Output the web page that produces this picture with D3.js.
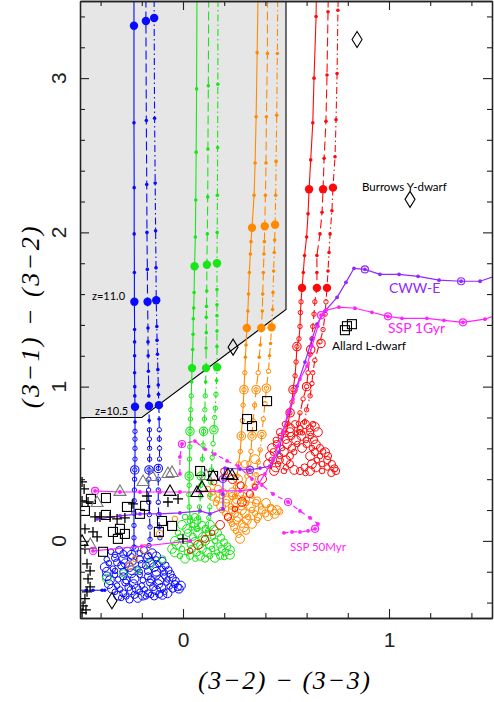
<!DOCTYPE html>
<html>
<head>
<meta charset="utf-8">
<script src="https://cdn.jsdelivr.net/npm/d3@7"></script>
<style>body{margin:0;background:#fff}</style>
</head>
<body>
<div id="chart"></div>
<script>
// axis ticks
const xMajor = [0, 1];
const xMinor = [-0.4, -0.2, 0.2, 0.4, 0.6, 0.8, 1.2, 1.4];
const yMajor = [0, 1, 2, 3];
const yMinor = [-0.4, -0.2, 0.2, 0.4, 0.6, 0.8, 1.2, 1.4, 1.6, 1.8, 2.2, 2.4, 2.6, 2.8, 3.2, 3.4];

// selection box
const selectBox = [[-0.5, 3.6], [-0.5, 0.8], [-0.2, 0.8], [0.5, 1.5], [0.5, 3.6]];

// blue tracks
const blueSolid = [[-0.238,3.6],[-0.238,3.34],[-0.238,2.71],[-0.237,2.29],[-0.237,1.99],[-0.236,1.74],[-0.236,1.55],[-0.235,1.37],[-0.235,1.29],[-0.235,1.2],[-0.235,1.09],[-0.234,1.0],[-0.234,0.94],[-0.233,0.87],[-0.233,0.77],[-0.233,0.71],[-0.233,0.66],[-0.233,0.6],[-0.233,0.53],[-0.234,0.46],[-0.235,0.4],[-0.236,0.33],[-0.237,0.26],[-0.238,0.18],[-0.238,0.1],[-0.238,0.02],[-0.238,-0.04]];
const blueDash = [[-0.18,3.6],[-0.18,3.37],[-0.178,2.725],[-0.176,2.31],[-0.175,2.0],[-0.173,1.76],[-0.172,1.55],[-0.17,1.38],[-0.17,1.29],[-0.169,1.2],[-0.168,1.1],[-0.167,1.0],[-0.166,0.94],[-0.165,0.875],[-0.164,0.78],[-0.163,0.72],[-0.163,0.66],[-0.162,0.6],[-0.162,0.53],[-0.165,0.46],[-0.166,0.4],[-0.167,0.33],[-0.166,0.25],[-0.163,0.17],[-0.16,0.09],[-0.16,0.01],[-0.165,-0.03]];
const blueDot = [[-0.14,3.6],[-0.14,3.39],[-0.138,2.74],[-0.135,2.32],[-0.133,2.01],[-0.131,1.77],[-0.13,1.56],[-0.127,1.39],[-0.126,1.3],[-0.124,1.21],[-0.122,1.11],[-0.12,1.01],[-0.119,0.95],[-0.117,0.88],[-0.116,0.79],[-0.115,0.72],[-0.115,0.66],[-0.114,0.6],[-0.114,0.53],[-0.12,0.47],[-0.12,0.4],[-0.12,0.33],[-0.12,0.25],[-0.118,0.17],[-0.115,0.09],[-0.112,0.02]];
const blueBig = [[-0.238,3.34],[-0.18,3.37],[-0.14,3.39],[-0.236,1.55],[-0.172,1.55],[-0.13,1.56],[-0.233,0.87],[-0.165,0.875],[-0.117,0.88]];
const blueRings = [[-0.234,0.46],[-0.165,0.46],[-0.12,0.47]];
const blueCloud = [[-0.35,-0.07],[-0.31,-0.06],[-0.27,-0.07],[-0.23,-0.05],[-0.19,-0.06],[-0.15,-0.08],
  [-0.37,-0.12],[-0.33,-0.11],[-0.29,-0.12],[-0.25,-0.10],[-0.21,-0.12],[-0.17,-0.11],[-0.13,-0.12],[-0.10,-0.13],
  [-0.38,-0.17],[-0.34,-0.18],[-0.30,-0.16],[-0.26,-0.17],[-0.22,-0.18],[-0.18,-0.16],[-0.14,-0.17],[-0.10,-0.18],[-0.07,-0.19],
  [-0.37,-0.23],[-0.33,-0.22],[-0.29,-0.23],[-0.25,-0.21],[-0.21,-0.22],[-0.17,-0.23],[-0.13,-0.22],[-0.09,-0.23],[-0.05,-0.24],
  [-0.36,-0.28],[-0.32,-0.29],[-0.28,-0.27],[-0.24,-0.28],[-0.20,-0.29],[-0.16,-0.27],[-0.12,-0.28],[-0.08,-0.27],[-0.04,-0.28],[-0.01,-0.29],
  [-0.33,-0.33],[-0.29,-0.34],[-0.25,-0.32],[-0.21,-0.33],[-0.17,-0.34],[-0.13,-0.32],[-0.09,-0.33],[-0.05,-0.31],[-0.02,-0.31],
  [-0.30,-0.37],[-0.26,-0.38],[-0.22,-0.37],[-0.18,-0.36],[-0.14,-0.36],[-0.10,-0.35],
  [-0.33,-0.09],[-0.29,-0.085],[-0.25,-0.09],[-0.21,-0.08],[-0.17,-0.095],[-0.13,-0.10],
  [-0.36,-0.145],[-0.32,-0.14],[-0.28,-0.145],[-0.24,-0.135],[-0.20,-0.15],[-0.16,-0.14],[-0.12,-0.15],[-0.085,-0.16],
  [-0.37,-0.20],[-0.33,-0.195],[-0.29,-0.20],[-0.25,-0.19],[-0.21,-0.20],[-0.17,-0.195],[-0.13,-0.20],[-0.09,-0.205],[-0.06,-0.215],
  [-0.355,-0.255],[-0.315,-0.25],[-0.275,-0.255],[-0.235,-0.245],[-0.195,-0.255],[-0.155,-0.25],[-0.115,-0.255],[-0.075,-0.25],[-0.035,-0.26],
  [-0.345,-0.31],[-0.305,-0.315],[-0.265,-0.30],[-0.225,-0.31],[-0.185,-0.315],[-0.145,-0.30],[-0.105,-0.305],[-0.065,-0.295],[-0.025,-0.30],
  [-0.315,-0.355],[-0.275,-0.36],[-0.235,-0.35],[-0.195,-0.355],[-0.155,-0.35],[-0.115,-0.345],[-0.075,-0.34]];
const blueTail = [[-0.38,-0.32],[-0.393,-0.32],[-0.437,-0.32],[-0.47,-0.32],[-0.52,-0.32]];

// green tracks
const greenSolid = [[0.068,3.6],[0.066,2.93],[0.064,2.52],[0.062,2.21],[0.06,1.97],[0.056,1.78],[0.054,1.61],[0.052,1.51],[0.05,1.44],[0.049,1.34],[0.047,1.24],[0.044,1.12],[0.042,1.03],[0.04,0.94],[0.038,0.85],[0.036,0.79],[0.034,0.71],[0.033,0.61],[0.032,0.53],[0.03,0.42],[0.03,0.36],[0.028,0.3],[0.03,0.22],[0.035,0.15],[0.04,0.08]];
const greenDash = [[0.125,3.6],[0.123,2.95],[0.121,2.54],[0.12,2.23],[0.118,1.99],[0.116,1.79],[0.115,1.62],[0.114,1.52],[0.113,1.45],[0.113,1.35],[0.112,1.25],[0.112,1.12],[0.11,1.03],[0.108,0.94],[0.106,0.85],[0.104,0.79],[0.1,0.71],[0.097,0.62],[0.094,0.53],[0.088,0.42],[0.086,0.36],[0.085,0.29],[0.08,0.22],[0.075,0.15],[0.07,0.08]];
const greenDot = [[0.17,3.6],[0.169,2.96],[0.168,2.55],[0.167,2.24],[0.166,2.0],[0.165,1.8],[0.165,1.63],[0.165,1.53],[0.165,1.46],[0.165,1.36],[0.165,1.26],[0.165,1.126],[0.163,1.04],[0.16,0.95],[0.157,0.86],[0.154,0.8],[0.15,0.72],[0.146,0.63],[0.142,0.54],[0.138,0.46],[0.135,0.38],[0.132,0.3],[0.13,0.22],[0.125,0.15],[0.12,0.07]];
const greenBig = [[0.056,1.78],[0.116,1.79],[0.165,1.8],[0.044,1.12],[0.112,1.12],[0.165,1.126]];
const greenRings = [[0.034,0.71],[0.1,0.71],[0.15,0.72],[0.03,0.42],[0.088,0.42]];
const greenCloud = [[0.01,0.155],[0.058,0.155],
  [-0.005,0.104],[0.044,0.104],[0.092,0.104],[0.131,0.104],
  [-0.024,0.052],[0.024,0.052],[0.073,0.052],[0.121,0.052],[0.17,0.052],
  [-0.039,0.0],[0.01,0.0],[0.058,0.0],[0.107,0.0],[0.155,0.0],[0.199,-0.01],
  [-0.053,-0.052],[-0.005,-0.052],[0.044,-0.052],[0.092,-0.052],[0.141,-0.052],[0.189,-0.052],[0.228,-0.06],
  [-0.015,-0.097],[0.034,-0.097],[0.083,-0.097],[0.131,-0.097],[0.18,-0.097],[0.228,-0.09],
  [0.034,0.13],[0.07,0.13],
  [0.02,0.078],[0.068,0.078],[0.11,0.078],[0.15,0.07],
  [-0.015,0.026],[0.048,0.026],[0.097,0.026],[0.145,0.026],[0.185,0.02],
  [-0.03,-0.026],[0.034,-0.026],[0.083,-0.026],[0.131,-0.026],[0.177,-0.03],[0.215,-0.035],
  [-0.04,-0.075],[0.02,-0.075],[0.068,-0.075],[0.117,-0.075],[0.165,-0.075],[0.205,-0.075],
  [0.01,-0.115],[0.06,-0.115],[0.107,-0.115],[0.155,-0.11],[0.2,-0.105],
  [-0.1,-0.12],[-0.16,-0.15],[-0.22,-0.19],[-0.29,-0.21],[-0.37,-0.245]];

// orange tracks
const orangeSolid = [[0.365,3.6],[0.36,3.165],[0.355,2.75],[0.35,2.45],[0.345,2.24],[0.335,2.03],[0.33,1.94],[0.327,1.86],[0.322,1.74],[0.318,1.6],[0.315,1.49],[0.31,1.38],[0.306,1.27],[0.303,1.19],[0.3,1.09],[0.296,0.98],[0.292,0.88],[0.288,0.78],[0.283,0.68],[0.278,0.58],[0.27,0.5],[0.262,0.42],[0.255,0.35],[0.25,0.29]];
const orangeDash = [[0.41,3.6],[0.41,3.16],[0.405,2.75],[0.403,2.45],[0.4,2.24],[0.397,2.04],[0.395,1.94],[0.393,1.86],[0.39,1.74],[0.387,1.6],[0.385,1.49],[0.38,1.38],[0.375,1.27],[0.37,1.19],[0.365,1.09],[0.355,0.98],[0.348,0.88],[0.34,0.78],[0.335,0.68],[0.33,0.58],[0.32,0.5],[0.31,0.42],[0.3,0.35],[0.29,0.28]];
const orangeDot = [[0.46,3.6],[0.458,3.16],[0.455,2.76],[0.452,2.46],[0.45,2.24],[0.447,2.05],[0.445,1.95],[0.443,1.87],[0.44,1.75],[0.437,1.61],[0.435,1.5],[0.43,1.385],[0.425,1.28],[0.42,1.2],[0.415,1.1],[0.405,0.99],[0.398,0.89],[0.39,0.79],[0.383,0.69],[0.375,0.59],[0.365,0.51],[0.355,0.43],[0.345,0.36],[0.335,0.29]];
const orangeBig = [[0.335,2.03],[0.397,2.04],[0.447,2.05],[0.31,1.38],[0.38,1.38],[0.43,1.385]];
const orangeRings = [[0.296,0.98],[0.355,0.98],[0.405,0.99],[0.283,0.68],[0.335,0.68],[0.383,0.69]];
const orangeCloud = [[0.121,0.337],[0.17,0.337],
  [0.141,0.291],[0.189,0.291],[0.238,0.291],[0.286,0.291],
  [0.16,0.246],[0.209,0.246],[0.257,0.246],[0.306,0.246],[0.354,0.246],[0.403,0.246],
  [0.189,0.2],[0.238,0.2],[0.286,0.2],[0.335,0.2],[0.383,0.2],[0.432,0.2],[0.471,0.19],
  [0.218,0.155],[0.267,0.155],[0.316,0.155],[0.364,0.155],[0.413,0.16],
  [0.238,0.11],[0.286,0.11],[0.335,0.11],
  [0.257,0.065],[0.306,0.065],[0.277,0.013],
  [0.145,0.315],[0.195,0.315],[0.24,0.315],
  [0.165,0.268],[0.213,0.268],[0.262,0.268],[0.31,0.268],[0.36,0.262],
  [0.185,0.223],[0.233,0.223],[0.282,0.223],[0.33,0.223],[0.378,0.223],[0.425,0.215],[0.455,0.2],
  [0.205,0.178],[0.253,0.178],[0.3,0.178],[0.35,0.178],[0.4,0.178],[0.445,0.175],
  [0.228,0.133],[0.262,0.133],[0.31,0.133],[0.36,0.135],
  [0.248,0.088],[0.296,0.088],[0.27,0.04],
  [0.204,0.414],[0.267,0.4],[0.325,0.434],[0.3,0.498],[0.35,0.53],
  [-0.039,0.142],[-0.112,0.045],[-0.184,-0.052],[-0.233,-0.117],[-0.257,-0.162]];

// red tracks
const redSolid = [[0.648,3.6],[0.646,3.4],[0.636,3.0],[0.63,2.71],[0.62,2.47],[0.612,2.28],[0.607,2.12],[0.6,1.97],[0.59,1.85],[0.584,1.74],[0.578,1.64],[0.573,1.55],[0.57,1.48],[0.568,1.39],[0.563,1.31],[0.553,1.26],[0.549,1.16],[0.544,1.07],[0.534,0.98],[0.529,0.9],[0.519,0.83],[0.51,0.76],[0.5,0.7]];
const redDash = [[0.706,3.6],[0.704,3.43],[0.699,3.02],[0.694,2.72],[0.685,2.48],[0.68,2.28],[0.675,2.13],[0.665,1.99],[0.65,1.85],[0.65,1.74],[0.65,1.64],[0.64,1.55],[0.636,1.47],[0.63,1.39],[0.626,1.31],[0.617,1.21],[0.607,1.09],[0.6,1.0],[0.583,0.92],[0.568,0.83],[0.56,0.76],[0.55,0.7]];
const redDot = [[0.755,3.6],[0.752,3.44],[0.748,3.03],[0.743,2.73],[0.738,2.49],[0.728,2.29],[0.723,2.14],[0.714,1.99],[0.709,1.87],[0.704,1.75],[0.699,1.64],[0.694,1.55],[0.69,1.47],[0.68,1.37],[0.665,1.29],[0.64,1.17],[0.63,1.09],[0.626,1.02],[0.617,0.94],[0.6,0.85],[0.59,0.77],[0.58,0.7]];
const redBig = [[0.612,2.28],[0.68,2.28],[0.728,2.29],[0.578,1.64],[0.65,1.64],[0.699,1.64]];
const redRings = [[0.553,1.26],[0.62,1.24],[0.67,1.28],[0.534,0.98],[0.6,1.0],[0.52,0.83]];
const redCloud = [[0.495,0.757],[0.544,0.757],[0.592,0.757],[0.631,0.757],
  [0.471,0.705],[0.519,0.705],[0.568,0.705],[0.617,0.705],[0.655,0.705],
  [0.451,0.654],[0.5,0.654],[0.549,0.654],[0.597,0.654],[0.636,0.654],
  [0.432,0.602],[0.481,0.602],[0.529,0.602],[0.578,0.602],[0.626,0.602],[0.665,0.602],
  [0.422,0.55],[0.471,0.55],[0.519,0.55],[0.617,0.55],[0.665,0.55],[0.704,0.55],
  [0.413,0.498],[0.461,0.498],[0.519,0.498],[0.626,0.498],[0.675,0.498],[0.723,0.498],
  [0.442,0.453],[0.49,0.453],[0.568,0.453],[0.617,0.453],[0.675,0.453],[0.743,0.453],
  [0.52,0.73],[0.57,0.73],[0.615,0.73],[0.64,0.74],
  [0.475,0.68],[0.525,0.68],[0.575,0.68],[0.62,0.68],
  [0.455,0.628],[0.505,0.628],[0.555,0.628],[0.6,0.628],[0.645,0.625],[0.68,0.58],
  [0.44,0.576],[0.49,0.576],[0.54,0.576],[0.64,0.576],[0.69,0.575],
  [0.43,0.524],[0.47,0.524],[0.5,0.524],[0.65,0.524],[0.7,0.524],
  [0.45,0.476],[0.5,0.476],[0.59,0.476],[0.645,0.476],[0.7,0.476],[0.735,0.47],
  [0.54,0.46],[0.595,0.44],[0.72,0.44],
  [0.384,0.401],[0.35,0.35],[0.325,0.304],[0.286,0.252],[0.252,0.207],[0.218,0.155],[0.18,0.104],
  [0.141,0.052],[0.107,0.013],[0.073,-0.026],[0.034,-0.065],[0.2,0.45],[0.24,0.4],[0.15,0.38],[0.28,0.36]];

// model tracks
const cwwe = [[1.52,1.72],[1.442,1.683],[1.35,1.683],[1.243,1.69],[1.141,1.715],[1.049,1.728],[0.956,1.728],[0.883,1.76],[0.83,1.767],[0.791,1.676],[0.748,1.579],[0.689,1.489],[0.65,1.405],[0.626,1.307],[0.592,1.159],[0.553,1.003],[0.515,0.835],[0.485,0.706],[0.466,0.576],[0.422,0.485],[0.374,0.472],[0.325,0.46],[0.277,0.466],[0.204,0.472],[0.194,0.401],[0.194,0.304],[0.194,0.207],[0.131,0.175],[0.083,0.194],[-0.015,0.181],[-0.112,0.175],[-0.209,0.175],[-0.306,0.162],[-0.417,0.142]];
const cwweRings = [[0.883,1.76],[1.35,1.683],[0.325,0.46],[0.194,0.401]];
const ssp1 = [[1.52,1.463],[1.466,1.437],[1.359,1.417],[1.267,1.43],[1.184,1.443],[1.063,1.443],[0.995,1.456],[0.917,1.482],[0.835,1.508],[0.757,1.515],[0.694,1.495],[0.67,1.463],[0.655,1.392],[0.626,1.262],[0.602,1.133],[0.568,1.049],[0.534,0.919],[0.51,0.835],[0.485,0.706],[0.461,0.615],[0.437,0.531],[0.398,0.434],[0.35,0.337],[0.277,0.324],[0.18,0.324],[0.083,0.317],[-0.015,0.317],[-0.112,0.317],[-0.209,0.317],[-0.306,0.317],[-0.427,0.324]];
const ssp1Rings = [[0.995,1.456],[1.359,1.417],[0.67,1.463],[-0.427,0.324]];
const ssp50 = [[-0.015,0.434],[-0.015,0.544],[-0.005,0.628],[0.058,0.647],[0.107,0.595],[0.155,0.563],[0.214,0.518],[0.267,0.485],[0.335,0.401],[0.383,0.362],[0.437,0.304],[0.51,0.252],[0.568,0.194],[0.617,0.149],[0.655,0.11],[0.641,0.078],[0.607,0.065],[0.568,0.058],[0.529,0.058],[0.49,0.052]];
const ssp50Rings = [[-0.005,0.628],[0.51,0.252],[0.641,0.078]];
const sspLow = [[-0.437,-0.065],[-0.2,-0.035],[0.035,0.0]];

// observed objects
const crosses = [[-0.49,0.382],[-0.48,0.337],[-0.49,0.259],[-0.461,0.252],[-0.427,0.155],[-0.403,0.155],[-0.476,0.078],[-0.437,0.058],[-0.417,0.026],[-0.476,-0.052],[-0.466,-0.149],[-0.451,-0.194],[-0.461,-0.246],[-0.451,-0.298],[-0.466,-0.33],[-0.476,-0.375],[-0.485,-0.421],[-0.471,-0.447],[-0.49,-0.466],[-0.354,0.155],[-0.32,0.142],[-0.282,0.149],[-0.243,0.24],[-0.175,0.291],[-0.073,0.252],[-0.024,0.272],[0.0,0.013]];
const squares = [[-0.447,0.272],[-0.374,0.278],[-0.476,0.194],[-0.374,0.168],[-0.272,0.22],[-0.34,0.058],[-0.306,0.078],[-0.282,0.045],[-0.316,0.013],[-0.388,-0.071],[-0.209,0.175],[-0.184,0.227],[-0.102,0.129],[-0.117,0.058],[-0.053,0.097],[0.083,0.453],[0.146,0.421],[0.408,0.906],[0.311,0.79],[0.335,0.744],[0.796,1.392],[0.82,1.405],[0.786,1.366]];
const greyTriangles = [[-0.306,0.324],[-0.417,0.252],[-0.053,0.447],[-0.15,0.421],[-0.194,0.388],[-0.073,0.44],[0.112,0.427],[-0.45,-0.02]];
const blackTriangles = [[-0.063,0.324],[0.068,0.317],[0.092,0.35],[0.218,0.434],[0.238,0.427],[0.146,0.421],[-0.49,0.0]];
const diamonds = [[0.845,3.25],[1.102,2.214],[0.243,1.256],[-0.345,-0.388]];

const margin = {top: 1, right: 2, bottom: 84, left: 80};
const width = 494 - margin.left - margin.right;
const height = 702 - margin.top - margin.bottom;

const svg = d3.select("#chart")
    .append("svg")
    .attr("width", 494)
    .attr("height", 702)
    .append("g")
    .attr("transform", `translate(${margin.left},${margin.top})`);

const x = d3.scaleLinear().domain([-0.5, 1.5]).range([0, width]);
const y = d3.scaleLinear().domain([-0.5, 3.5]).range([height, 0]);
const line = d3.line().x(d => x(d[0])).y(d => y(d[1]));

svg.append("clipPath").attr("id", "clip")
    .append("rect").attr("width", width).attr("height", height);
const plot = svg.append("g").attr("clip-path", "url(#clip)");

plot.append("path")
    .datum(selectBox)
    .attr("fill", "#e6e6e6")
    .attr("d", line);
plot.append("path")
    .datum(selectBox.slice(1))
    .attr("fill", "none")
    .attr("stroke", "black")
    .attr("stroke-width", 1.1)
    .attr("d", line);

function dots(pts, r, color, filled, sw) {
    plot.append("g").selectAll("circle")
        .data(pts)
        .enter()
        .append("circle")
        .attr("cx", d => x(d[0]))
        .attr("cy", d => y(d[1]))
        .attr("r", r)
        .attr("fill", filled ? color : "none")
        .attr("stroke", filled ? "none" : color)
        .attr("stroke-width", sw || 1);
}

const dashes = [null, "9,4", "7,3,1.5,3"];
const colourTracks = [
    {color: "#0a0aff", cut: 0.75, lines: [blueSolid, blueDash, blueDot], big: blueBig, rings: blueRings, cloud: blueCloud},
    {color: "#19e619", cut: 1.0, lines: [greenSolid, greenDash, greenDot], big: greenBig, rings: greenRings, cloud: greenCloud},
    {color: "#ff8a00", cut: 1.15, lines: [orangeSolid, orangeDash, orangeDot], big: orangeBig, rings: orangeRings, cloud: orangeCloud},
    {color: "#ff0a0a", cut: 1.6, lines: [redSolid, redDash, redDot], big: redBig, rings: redRings, cloud: redCloud}
];

colourTracks.forEach(t => {
    plot.append("g").selectAll("circle")
        .data(t.cloud)
        .enter()
        .append("circle")
        .attr("cx", d => x(d[0]))
        .attr("cy", d => y(d[1]))
        .attr("r", (d, i) => 2.8 + (i % 3) * 0.8)
        .attr("fill", "none")
        .attr("stroke", t.color)
        .attr("stroke-width", 1);

    t.lines.forEach((pts, k) => {
        plot.append("path")
            .datum(pts)
            .attr("fill", "none")
            .attr("stroke", t.color)
            .attr("stroke-width", 1.1)
            .attr("stroke-dasharray", dashes[k])
            .attr("d", line);
        dots(pts.filter(d => d[1] >= t.cut), 1.8, t.color, true);
        dots(pts.filter(d => d[1] < t.cut), 2.2, t.color, false, 1);
    });
    dots(t.rings, 4.2, t.color, false, 1.1);
    dots(t.big, 4.2, t.color, true);
});

plot.append("path").datum(blueTail)
    .attr("fill", "none").attr("stroke", "#0a0aff").attr("stroke-width", 1)
    .attr("d", line);
dots(blueTail, 1.8, "#0a0aff", true);

// model SEDs
const purple = "#9128ff", magenta = "#ff22ff";
[[cwwe, purple, null], [ssp1, magenta, null], [ssp50, magenta, "5,4"], [sspLow, magenta, null]].forEach(([pts, c, dash]) => {
    plot.append("path").datum(pts)
        .attr("fill", "none")
        .attr("stroke", c)
        .attr("stroke-width", 1.2)
        .attr("stroke-dasharray", dash)
        .attr("d", line);
    dots(pts, 1.9, c, true);
});
dots(cwweRings, 3.5, purple, false, 1.2);
dots(ssp1Rings, 3.5, magenta, false, 1.2);
dots(ssp50Rings, 3.5, magenta, false, 1.2);
dots([sspLow[0]], 3.5, magenta, false, 1.2);

// observed markers
plot.append("g").selectAll("path")
    .data(crosses).enter().append("path")
    .attr("transform", d => `translate(${x(d[0])},${y(d[1])})`)
    .attr("d", "M-5,0H5M0,-5V5")
    .attr("stroke", "black")
    .attr("stroke-width", 1.3);

plot.append("g").selectAll("rect")
    .data(squares).enter().append("rect")
    .attr("x", d => x(d[0]) - 4.5)
    .attr("y", d => y(d[1]) - 4.5)
    .attr("width", 9)
    .attr("height", 9)
    .attr("fill", "none")
    .attr("stroke", "black")
    .attr("stroke-width", 1.1);

[[greyTriangles, "#777"], [blackTriangles, "black"]].forEach(([pts, c]) => {
    plot.append("g").selectAll("path")
        .data(pts).enter().append("path")
        .attr("transform", d => `translate(${x(d[0])},${y(d[1])})`)
        .attr("d", "M0,-6L6,4.5H-6Z")
        .attr("fill", "none")
        .attr("stroke", c)
        .attr("stroke-width", 1.1);
});

plot.append("g").selectAll("path")
    .data(diamonds).enter().append("path")
    .attr("transform", d => `translate(${x(d[0])},${y(d[1])})`)
    .attr("d", "M0,-8L5,0L0,8L-5,0Z")
    .attr("fill", "none")
    .attr("stroke", "black")
    .attr("stroke-width", 1.1);

// annotations
const notes = [
    {text: "Burrows Y-dwarf", x: 0.869, y: 2.265, size: 11.5, color: "black"},
    {text: "CWW-E", x: 1.0, y: 1.605, size: 14, color: purple},
    {text: "SSP 1Gyr", x: 0.995, y: 1.346, size: 14, color: magenta},
    {text: "Allard L-dwarf", x: 0.723, y: 1.236, size: 12, color: "black"},
    {text: "SSP 50Myr", x: 0.519, y: -0.065, size: 11.5, color: magenta},
    {text: "z=11.0", x: -0.442, y: 1.56, size: 11, color: "black"},
    {text: "z=10.5", x: -0.427, y: 0.816, size: 11, color: "black"}
];
svg.append("g").selectAll("text")
    .data(notes).enter().append("text")
    .attr("x", d => x(d.x))
    .attr("y", d => y(d.y))
    .attr("font-family", "Lato, 'Open Sans', sans-serif")
    .attr("font-size", d => d.size)
    .attr("fill", d => d.color)
    .text(d => d.text);

// axes with inward ticks on all sides
function frame(g) {
    g.select(".domain").attr("stroke", "#222").attr("stroke-width", 1.3);
    g.selectAll(".tick line").attr("stroke", "#222").attr("stroke-width", 1.1);
}
svg.append("g").attr("transform", `translate(0,${height})`)
    .call(d3.axisBottom(x).tickValues(xMinor).tickSize(-5).tickSizeOuter(0).tickFormat(""))
    .call(frame);
svg.append("g").attr("transform", `translate(0,${height})`)
    .call(d3.axisBottom(x).tickValues(xMajor).tickSize(-9).tickSizeOuter(0).tickPadding(14).tickFormat(d3.format("d")))
    .call(frame)
    .call(g => g.selectAll("text").attr("font-size", 21).attr("font-family", "Liberation Sans").attr("fill", "#222"));
svg.append("g")
    .call(d3.axisTop(x).tickValues(xMinor).tickSize(-5).tickSizeOuter(0).tickFormat(""))
    .call(frame);
svg.append("g")
    .call(d3.axisTop(x).tickValues(xMajor).tickSize(-9).tickSizeOuter(0).tickFormat(""))
    .call(frame);
svg.append("g")
    .call(d3.axisLeft(y).tickValues(yMinor).tickSize(-5).tickSizeOuter(0).tickFormat(""))
    .call(frame);
svg.append("g")
    .call(d3.axisLeft(y).tickValues(yMajor).tickSize(-9).tickSizeOuter(0).tickFormat(""))
    .call(frame);
svg.append("g").attr("transform", `translate(${width},0)`)
    .call(d3.axisRight(y).tickValues(yMinor).tickSize(-5).tickSizeOuter(0).tickFormat(""))
    .call(frame);
svg.append("g").attr("transform", `translate(${width},0)`)
    .call(d3.axisRight(y).tickValues(yMajor).tickSize(-9).tickSizeOuter(0).tickFormat(""))
    .call(frame);

svg.append("g").selectAll("text")
    .data(yMajor).enter().append("text")
    .attr("transform", d => `translate(-22,${y(d)}) rotate(-90)`)
    .attr("dy", "0.36em")
    .attr("text-anchor", "middle")
    .attr("font-size", 21)
    .attr("font-family", "Liberation Sans")
    .attr("fill", "#222")
    .text(d => d);

svg.append("text")
    .attr("x", width / 2 - 2)
    .attr("y", height + 71)
    .attr("text-anchor", "middle")
    .attr("font-family", "Liberation Serif")
    .attr("font-style", "italic")
    .attr("font-size", 26)
    .attr("textLength", 172)
    .attr("lengthAdjust", "spacing")
    .text("(3\u22122)  \u2212  (3\u22123)");

svg.append("text")
    .attr("transform", `translate(-50,${y(1.45)}) rotate(-90)`)
    .attr("dy", "0.35em")
    .attr("text-anchor", "middle")
    .attr("font-family", "Liberation Serif")
    .attr("font-style", "italic")
    .attr("font-size", 26)
    .attr("textLength", 182)
    .attr("lengthAdjust", "spacing")
    .text("(3\u22121)  \u2212  (3\u22122)");
</script>
</body>
</html>
